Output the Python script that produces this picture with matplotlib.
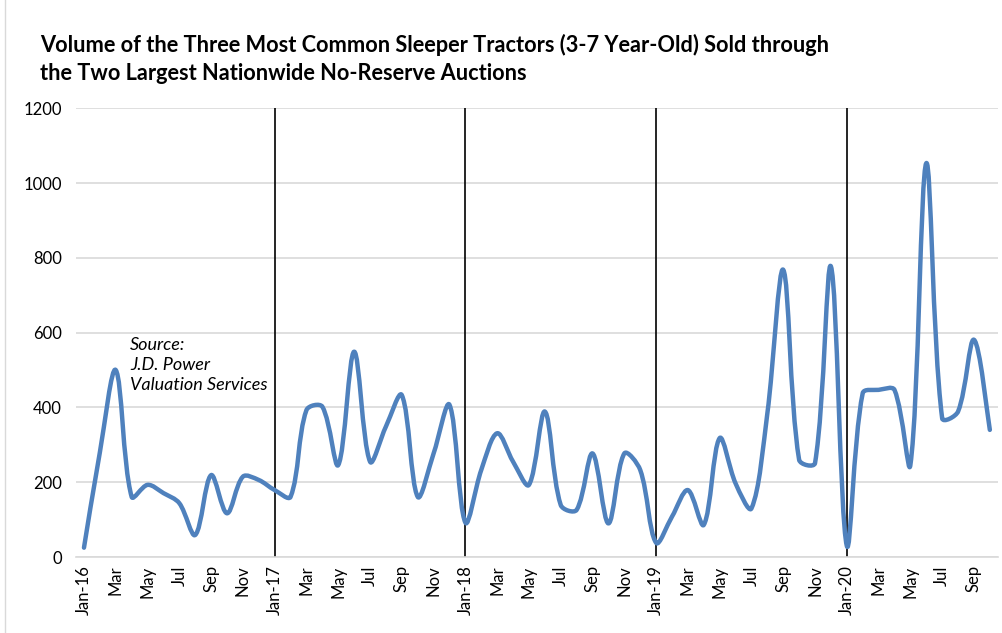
import numpy as np
import matplotlib.pyplot as plt
from matplotlib.path import Path
from matplotlib.patches import PathPatch

plt.rcParams['font.family'] = ['Lato', 'DejaVu Sans']

# monthly volume, Jan-16 .. Oct-20
volume = [25, 280, 500, 161, 193, 171, 144, 59, 219, 117, 215, 206,
          179, 161, 393, 402, 246, 549, 255, 349, 433, 161, 277, 407,
          92, 233, 331, 255, 193, 389, 139, 126, 277, 90, 277, 233,
          38, 108, 179, 86, 318, 197, 130, 384, 768, 260, 251, 777,
          30, 438, 447, 447, 246, 1053, 371, 389, 581, 340]
months = ['Jan', 'Feb', 'Mar', 'Apr', 'May', 'Jun',
          'Jul', 'Aug', 'Sep', 'Oct', 'Nov', 'Dec']
years = ['16', '17', '18', '19', '20']
year_starts = [12, 24, 36, 48]

labels = []
for k in range(len(volume)):
    m = months[k % 12]
    if k % 12 == 0:
        m = m + '-' + years[k // 12]
    labels.append(m)

fig = plt.figure(figsize=(10.03, 6.33), dpi=100)
ax = fig.add_axes([0.0758, 0.12, 0.919, 0.709])

# Excel-style smoothed line: bezier segments, tangents scaled by segment length
x = np.arange(len(volume), dtype=float)
y = np.array(volume, dtype=float)
sx, sy = 15.85, 0.3737  # rough px per unit, only used for segment lengths
n = len(x)


def seglen(a, b):
    return np.hypot((x[b] - x[a]) * sx, (y[b] - y[a]) * sy)


verts = [(x[0], y[0])]
codes = [Path.MOVETO]
for i in range(n - 1):
    i0, i1, i2, i3 = max(i - 1, 0), i, i + 1, min(i + 2, n - 1)
    d01, d12, d23 = seglen(i0, i1), seglen(i1, i2), seglen(i2, i3)
    f1 = d12 / (d01 + d12) / 3 if d01 > 0 else 1 / 6
    f2 = d12 / (d12 + d23) / 3 if d23 > 0 else 1 / 6
    c1 = (x[i1] + (x[i2] - x[i0]) * f1, y[i1] + (y[i2] - y[i0]) * f1)
    c2 = (x[i2] - (x[i3] - x[i1]) * f2, y[i2] - (y[i3] - y[i1]) * f2)
    verts += [c1, c2, (x[i2], y[i2])]
    codes += [Path.CURVE4] * 3
ax.add_patch(PathPatch(Path(verts, codes), fill=False, edgecolor='#4F81BD',
                       lw=3.2, capstyle='round', joinstyle='round', zorder=3))

for ys in year_starts:
    ax.plot([ys, ys], [0, 1200], color='black', lw=1.2, zorder=2)

ax.set_xlim(-0.5, len(volume) - 0.5)
ax.set_ylim(0, 1200)
ax.set_yticks(range(0, 1201, 200))
ax.set_xticks(x[::2])
ax.set_xticklabels(labels[::2], rotation=90, fontsize=12)
ax.tick_params(axis='y', labelsize=12, length=0, pad=10)
ax.tick_params(axis='x', length=0, pad=6)
ax.grid(axis='y', color='#d9d9d9', lw=1.2, zorder=0)
for s in ['top', 'right', 'left']:
    ax.spines[s].set_visible(False)
ax.spines['bottom'].set_color('#d9d9d9')
ax.spines['bottom'].set_linewidth(1.2)

ax.text(2.9, 588, 'Source:\nJ.D. Power\nValuation Services', style='italic',
        fontsize=13, va='top', ha='left', linespacing=1.3)

fig.text(0.04, 0.947, 'Volume of the Three Most Common Sleeper Tractors (3-7 Year-Old) Sold through\n'
         'the Two Largest Nationwide No-Reserve Auctions', fontsize=15.7,
         fontweight='bold', va='top', ha='left', linespacing=1.42)

# faint chart border on the left edge
fig.add_artist(plt.Line2D([0.005, 0.005], [0, 1], color='#d9d9d9', lw=1))

fig.savefig('out.png', dpi=100)
